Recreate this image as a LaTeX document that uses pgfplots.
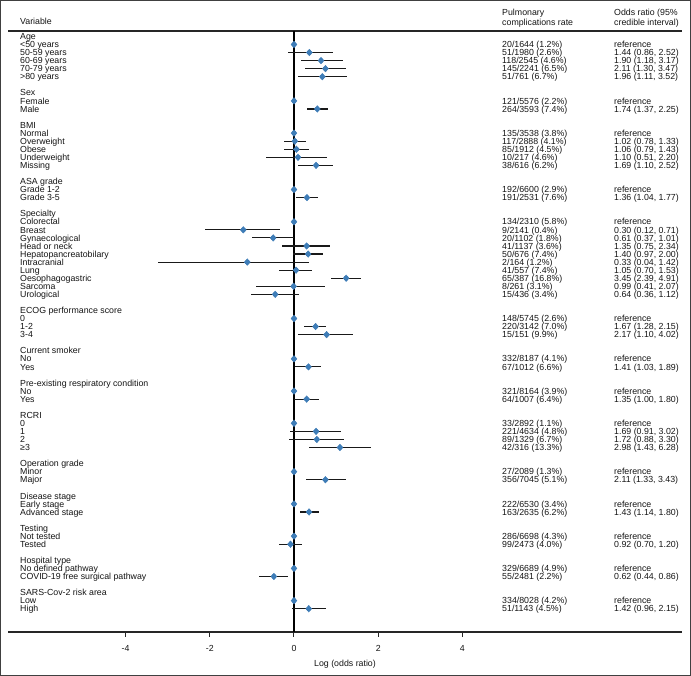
\documentclass[border=0pt]{standalone}
\usepackage{pgfplots}
\pgfplotsset{compat=1.18}
\usepackage{pgfplotstable}
\usepackage{fontspec}
\setmainfont{Liberation Sans}
\definecolor{mk}{RGB}{62,125,184}
\definecolor{txt}{RGB}{20,20,20}
\newcommand\tf{\fontsize{8.8bp}{9bp}\selectfont}

% row, log OR estimate, log lower, log upper
\pgfplotstableread{
row est lo hi
1 0 0 0
2 0.3646 -0.1508 0.9243
3 0.6419 0.1655 1.1537
4 0.7467 0.2624 1.2442
5 0.6729 0.1044 1.2585
8 0 0 0
9 0.5539 0.3148 0.8109
12 0 0 0
13 0.0198 -0.2485 0.2852
14 0.0583 -0.2357 0.3577
15 0.0953 -0.6733 0.7885
16 0.5247 0.0953 0.9243
19 0 0 0
20 0.3075 0.0392 0.5710
23 0 0 0
24 -1.2040 -2.1203 -0.3425
25 -0.4943 -0.9943 0.0100
26 0.3001 -0.2877 0.8502
27 0.3365 -0.0305 0.6931
28 -1.1087 -3.2189 0.3507
29 0.0488 -0.3567 0.4253
30 1.2384 0.8713 1.5913
31 -0.0101 -0.8916 0.7275
32 -0.4463 -1.0217 0.1133
35 0 0 0
36 0.5128 0.2469 0.7655
37 0.7747 0.0953 1.3913
40 0 0 0
41 0.3436 0.0296 0.6366
44 0 0 0
45 0.3001 0.0000 0.5878
48 0 0 0
49 0.5247 -0.0943 1.1053
50 0.5423 -0.1278 1.1939
51 1.0919 0.3577 1.8374
54 0 0 0
55 0.7467 0.2852 1.2326
58 0 0 0
59 0.3577 0.1310 0.5878
62 0 0 0
63 -0.0834 -0.3567 0.1823
66 0 0 0
67 -0.4780 -0.8210 -0.1508
70 0 0 0
71 0.3507 -0.0408 0.7655
}\ci

\tikzset{lbl/.style={anchor=west, inner sep=0pt, font=\tf, text height=6.3bp, text depth=0pt, text=txt}}
\newcommand\lab[2]{\node[lbl] at (axis cs:-6.508,-#1) {#2};}
\newcommand\val[3]{\node[lbl] at (axis cs:4.941,-#1) {#2};\node[lbl] at (axis cs:7.601,-#1) {#3};}

\begin{document}
\begin{tikzpicture}
\begin{axis}[
  width=674bp, height=601bp, scale only axis,
  xmin=-6.793, xmax=9.216, ymin=-73.89, ymax=0.67,
  clip=false,
  axis x line*=bottom, axis y line=none,
  x axis line style={-, line width=1.1bp, black!85},
  xtick={-4,-2,0,2,4}, xticklabels={-4,-2,0,2,4},
  tick align=outside, major tick length=5bp,
  x tick style={line width=1bp, black!85},
  xticklabel style={font=\tf, text=txt, text height=6.3bp, text depth=0pt, inner sep=0pt, anchor=north, yshift=-8bp},
  xlabel={Log (odds ratio)},
  xlabel style={font=\tf, text=txt, text height=6.3bp, text depth=0pt, inner sep=0pt, at={(rel axis cs:0.5,0)}, anchor=center, yshift=-31bp},
]
\coordinate (A) at (rel axis cs:0,0);
\coordinate (B) at (rel axis cs:1,1);
\addplot[black!85, line width=1.1bp, forget plot] coordinates {(-6.793,0.67) (9.216,0.67)};
\addplot[black, line width=1.3bp, forget plot] coordinates {(0,0.67) (0,-73.89)};
\addplot[only marks, mark=none, forget plot,
  error bars/.cd, x dir=both, x explicit, error mark=none,
  error bar style={line width=1.15bp, black!90}]
  table[x=est, y expr=-\thisrow{row}, x error plus expr=\thisrow{hi}-\thisrow{est}, x error minus expr=\thisrow{est}-\thisrow{lo}] {\ci};
\addplot[only marks, mark=diamond*, mark size=3.3bp, mark options={fill=mk, draw=mk, xscale=1.2}]
  table[x=est, y expr=-\thisrow{row}] {\ci};

% headers
\node[lbl] at (axis cs:-6.508,1.91) {Variable};
\node[lbl] at (axis cs:4.941,2.99) {Pulmonary};
\node[lbl] at (axis cs:4.941,1.70) {complications rate};
\node[lbl] at (axis cs:7.601,2.99) {Odds ratio (95\%};
\node[lbl] at (axis cs:7.601,1.70) {credible interval)};

\lab{0}{Age}
\lab{1}{<50 years}
\lab{2}{50-59 years}
\lab{3}{60-69 years}
\lab{4}{70-79 years}
\lab{5}{>80 years}
\lab{7}{Sex}
\lab{8}{Female}
\lab{9}{Male}
\lab{11}{BMI}
\lab{12}{Normal}
\lab{13}{Overweight}
\lab{14}{Obese}
\lab{15}{Underweight}
\lab{16}{Missing}
\lab{18}{ASA grade}
\lab{19}{Grade 1-2}
\lab{20}{Grade 3-5}
\lab{22}{Specialty}
\lab{23}{Colorectal}
\lab{24}{Breast}
\lab{25}{Gynaecological}
\lab{26}{Head or neck}
\lab{27}{Hepatopancreatobilary}
\lab{28}{Intracranial}
\lab{29}{Lung}
\lab{30}{Oesophagogastric}
\lab{31}{Sarcoma}
\lab{32}{Urological}
\lab{34}{ECOG performance score}
\lab{35}{0}
\lab{36}{1-2}
\lab{37}{3-4}
\lab{39}{Current smoker}
\lab{40}{No}
\lab{41}{Yes}
\lab{43}{Pre-existing respiratory condition}
\lab{44}{No}
\lab{45}{Yes}
\lab{47}{RCRI}
\lab{48}{0}
\lab{49}{1}
\lab{50}{2}
\lab{51}{≥3}
\lab{53}{Operation grade}
\lab{54}{Minor}
\lab{55}{Major}
\lab{57}{Disease stage}
\lab{58}{Early stage}
\lab{59}{Advanced stage}
\lab{61}{Testing}
\lab{62}{Not tested}
\lab{63}{Tested}
\lab{65}{Hospital type}
\lab{66}{No defined pathway}
\lab{67}{COVID-19 free surgical pathway}
\lab{69}{SARS-Cov-2 risk area}
\lab{70}{Low}
\lab{71}{High}

\val{1}{20/1644 (1.2\%)}{reference}
\val{2}{51/1980 (2.6\%)}{1.44 (0.86, 2.52)}
\val{3}{118/2545 (4.6\%)}{1.90 (1.18, 3.17)}
\val{4}{145/2241 (6.5\%)}{2.11 (1.30, 3.47)}
\val{5}{51/761 (6.7\%)}{1.96 (1.11, 3.52)}
\val{8}{121/5576 (2.2\%)}{reference}
\val{9}{264/3593 (7.4\%)}{1.74 (1.37, 2.25)}
\val{12}{135/3538 (3.8\%)}{reference}
\val{13}{117/2888 (4.1\%)}{1.02 (0.78, 1.33)}
\val{14}{85/1912 (4.5\%)}{1.06 (0.79, 1.43)}
\val{15}{10/217 (4.6\%)}{1.10 (0.51, 2.20)}
\val{16}{38/616 (6.2\%)}{1.69 (1.10, 2.52)}
\val{19}{192/6600 (2.9\%)}{reference}
\val{20}{191/2531 (7.6\%)}{1.36 (1.04, 1.77)}
\val{23}{134/2310 (5.8\%)}{reference}
\val{24}{9/2141 (0.4\%)}{0.30 (0.12, 0.71)}
\val{25}{20/1102 (1.8\%)}{0.61 (0.37, 1.01)}
\val{26}{41/1137 (3.6\%)}{1.35 (0.75, 2.34)}
\val{27}{50/676 (7.4\%)}{1.40 (0.97, 2.00)}
\val{28}{2/164 (1.2\%)}{0.33 (0.04, 1.42)}
\val{29}{41/557 (7.4\%)}{1.05 (0.70, 1.53)}
\val{30}{65/387 (16.8\%)}{3.45 (2.39, 4.91)}
\val{31}{8/261 (3.1\%)}{0.99 (0.41, 2.07)}
\val{32}{15/436 (3.4\%)}{0.64 (0.36, 1.12)}
\val{35}{148/5745 (2.6\%)}{reference}
\val{36}{220/3142 (7.0\%)}{1.67 (1.28, 2.15)}
\val{37}{15/151 (9.9\%)}{2.17 (1.10, 4.02)}
\val{40}{332/8187 (4.1\%)}{reference}
\val{41}{67/1012 (6.6\%)}{1.41 (1.03, 1.89)}
\val{44}{321/8164 (3.9\%)}{reference}
\val{45}{64/1007 (6.4\%)}{1.35 (1.00, 1.80)}
\val{48}{33/2892 (1.1\%)}{reference}
\val{49}{221/4634 (4.8\%)}{1.69 (0.91, 3.02)}
\val{50}{89/1329 (6.7\%)}{1.72 (0.88, 3.30)}
\val{51}{42/316 (13.3\%)}{2.98 (1.43, 6.28)}
\val{54}{27/2089 (1.3\%)}{reference}
\val{55}{356/7045 (5.1\%)}{2.11 (1.33, 3.43)}
\val{58}{222/6530 (3.4\%)}{reference}
\val{59}{163/2635 (6.2\%)}{1.43 (1.14, 1.80)}
\val{62}{286/6698 (4.3\%)}{reference}
\val{63}{99/2473 (4.0\%)}{0.92 (0.70, 1.20)}
\val{66}{329/6689 (4.9\%)}{reference}
\val{67}{55/2481 (2.2\%)}{0.62 (0.44, 0.86)}
\val{70}{334/8028 (4.2\%)}{reference}
\val{71}{51/1143 (4.5\%)}{1.42 (0.96, 2.15)}
\end{axis}
\draw[line width=1bp, black!75] ([xshift=-7.5bp,yshift=-43.5bp]A) rectangle ([xshift=8.5bp,yshift=30.5bp]B);
\end{tikzpicture}
\end{document}
